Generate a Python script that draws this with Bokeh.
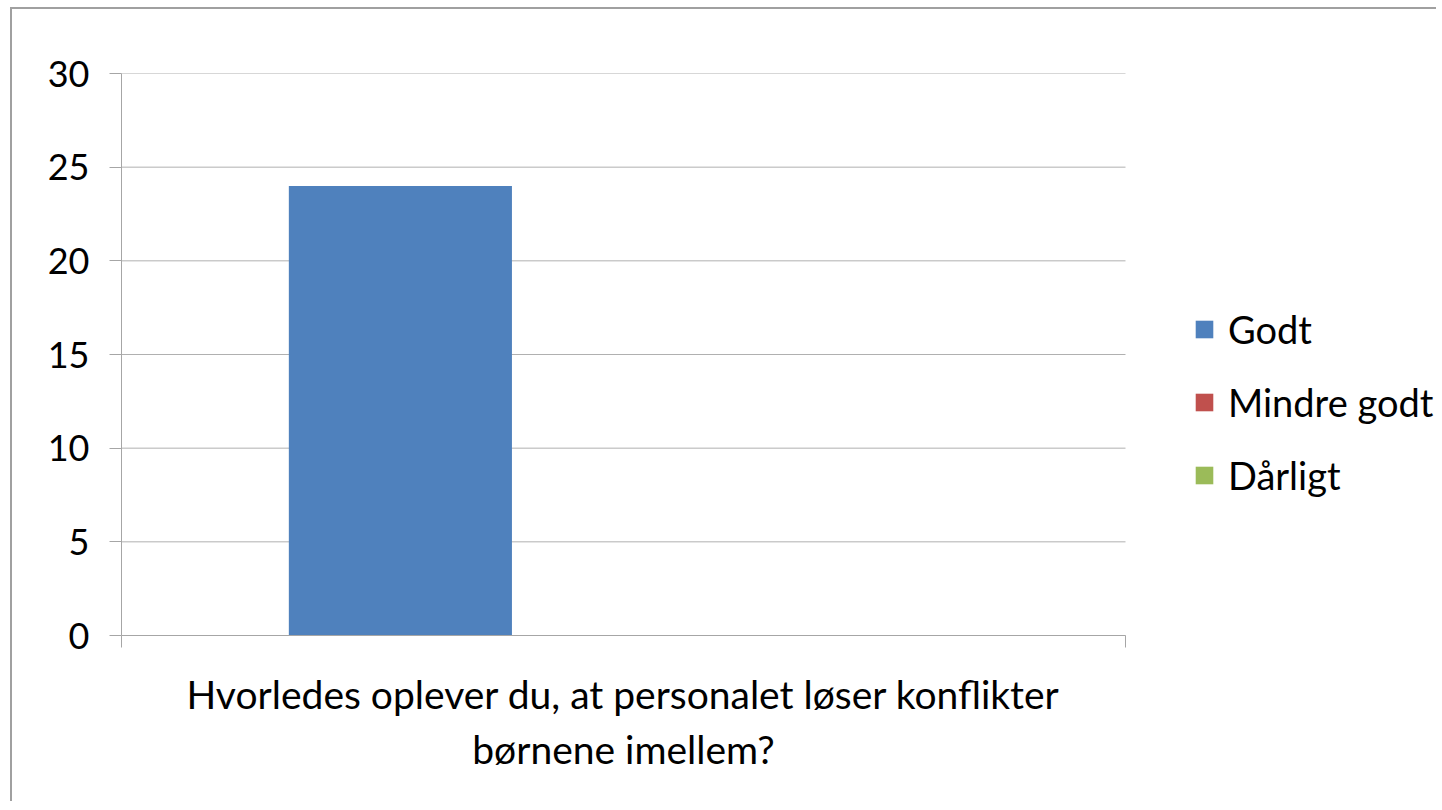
from bokeh.plotting import figure
from bokeh.models import Range1d, LinearAxis, FixedTicker, ColumnDataSource, Legend, LegendItem
from bokeh.embed import file_html
from bokeh.resources import INLINE

# ---- data ----
categories = ["Hvorledes oplever du, at personalet løser konflikter\nbørnene imellem?"]
series = ["Godt", "Mindre godt", "Dårligt"]
godt = [24]
mindre_godt = [0]
daarligt = [0]
colors = ["#4f81bd", "#c0504d", "#9bbb59"]
y_ticks = [0, 5, 10, 15, 20, 25, 30]

FONT = "Lato"
GRID = "#b0b0b0"
AXIS = "#a6a6a6"

values = [godt, mindre_godt, daarligt]
ncat = len(categories)

# layout: plot area is 1004px per category; frame extends right over the legend area
W, H = 1426, 794
BL, BT, BB = 109, 64, 168
plot_px = 1004
frame_px = W - BL
x_end = ncat * frame_px / plot_px

p = figure(width=W, height=H, output_backend="svg", toolbar_location=None,
           x_range=Range1d(0, x_end), y_range=Range1d(0, 30),
           x_axis_location=None, y_axis_location=None,
           min_border_left=BL, min_border_top=BT, min_border_right=0, min_border_bottom=BB)
p.styles = {"border-top": "2px solid #a0a0a0", "border-left": "2px solid #a0a0a0",
            "margin-left": "10px", "margin-top": "7px"}
p.outline_line_color = None
p.background_fill_color = "white"
p.border_fill_color = "white"
p.xgrid.visible = False
p.ygrid.visible = False

# gridlines limited to plot area
p.segment(x0=[0] * len(y_ticks), x1=[ncat] * len(y_ticks), y0=y_ticks, y1=y_ticks,
          line_color=GRID, line_width=1)

n = len(series)
bw = 1.0 / (n + 1.5)
items = []
for i, (name, col, vals) in enumerate(zip(series, colors, values)):
    off = (i - (n - 1) / 2) * bw
    xs = [k + 0.5 + off for k in range(ncat)]
    src = ColumnDataSource(dict(x=xs, top=vals))
    r = p.vbar(x="x", top="top", width=bw, source=src, fill_color=col, line_color=None)
    items.append(LegendItem(label=name, renderers=[r]))

# y axis
yax = LinearAxis(ticker=FixedTicker(ticks=y_ticks))
yax.axis_line_color = AXIS
yax.major_tick_line_color = AXIS
yax.major_tick_out = 12
yax.major_tick_in = 0
yax.minor_tick_line_color = None
yax.major_label_text_font = FONT
yax.major_label_text_font_size = "36px"
yax.major_label_text_color = "black"
yax.major_label_standoff = 20
p.add_layout(yax, "left")

# boundary ticks axis below (tick marks only, no labels)
eax = LinearAxis(ticker=FixedTicker(ticks=[float(k) for k in range(ncat + 1)]), bounds=(0, ncat))
eax.axis_line_color = AXIS
eax.major_tick_line_color = AXIS
eax.major_tick_out = 12
eax.major_tick_in = 0
eax.minor_tick_line_color = None
eax.major_label_text_font_size = "1px"
eax.major_label_text_color = None
eax.major_label_standoff = 0
p.add_layout(eax, "below")

# category label axis
centers = [k + 0.5 for k in range(ncat)]
cax = LinearAxis(ticker=FixedTicker(ticks=centers))
cax.major_label_overrides = {c: lab for c, lab in zip(centers, categories)}
cax.axis_line_color = None
cax.major_tick_line_color = None
cax.minor_tick_line_color = None
cax.major_label_text_font = FONT
cax.major_label_text_font_size = "39px"
cax.major_label_text_color = "black"
cax.major_label_standoff = 17
p.add_layout(cax, "below")

lg = Legend(items=items)
lg.location = (1072, 137)
lg.glyph_width = 22
lg.glyph_height = 22
lg.label_text_font = FONT
lg.label_text_font_size = "38px"
lg.label_text_color = "black"
lg.label_standoff = 13
lg.spacing = 27
lg.padding = 0
lg.margin = 0
lg.border_line_color = None
lg.background_fill_alpha = 0
p.add_layout(lg, "center")

open("out.html", "w").write(file_html(p, INLINE))
